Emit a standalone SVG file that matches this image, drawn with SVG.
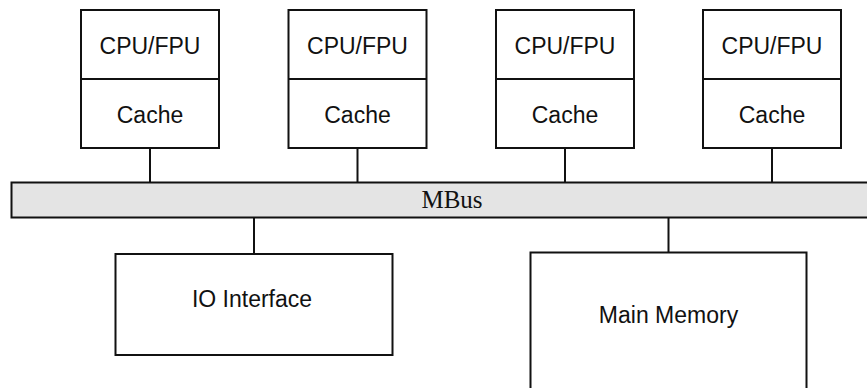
<svg xmlns="http://www.w3.org/2000/svg" width="867" height="388" viewBox="0 0 867 388">
<style>
.box{fill:#fff;stroke:#111;stroke-width:2}
.bus{fill:#e4e4e4;stroke:#111;stroke-width:2}
.ln{stroke:#111;stroke-width:2;fill:none}
.t{font-family:"Liberation Sans",Arial,sans-serif;font-size:23px;fill:#111;text-anchor:middle}
.s{font-family:"Liberation Serif","Times New Roman",serif;font-size:25px;fill:#111;text-anchor:middle}
</style>
<rect width="867" height="388" fill="#fff"/>
<g id="connectors">
<line class="ln" x1="150" y1="148" x2="150" y2="183"/>
<line class="ln" x1="357.5" y1="148" x2="357.5" y2="183"/>
<line class="ln" x1="565" y1="148" x2="565" y2="183"/>
<line class="ln" x1="772" y1="148" x2="772" y2="183"/>
<line class="ln" x1="254" y1="217" x2="254" y2="254"/>
<line class="ln" x1="668.5" y1="217" x2="668.5" y2="252.5"/>
</g>
<g id="cpu1">
<rect class="box" x="81" y="10" width="138" height="138"/>
<line class="ln" x1="81" y1="79" x2="219" y2="79"/>
<text class="t" x="150" y="54">CPU/FPU</text>
<text class="t" x="150" y="123">Cache</text>
</g>
<g id="cpu2">
<rect class="box" x="288.5" y="10" width="138" height="138"/>
<line class="ln" x1="288.5" y1="79" x2="426.5" y2="79"/>
<text class="t" x="357.5" y="54">CPU/FPU</text>
<text class="t" x="357.5" y="123">Cache</text>
</g>
<g id="cpu3">
<rect class="box" x="496" y="10" width="138" height="138"/>
<line class="ln" x1="496" y1="79" x2="634" y2="79"/>
<text class="t" x="565" y="54">CPU/FPU</text>
<text class="t" x="565" y="123">Cache</text>
</g>
<g id="cpu4">
<rect class="box" x="703" y="10" width="138" height="138"/>
<line class="ln" x1="703" y1="79" x2="841" y2="79"/>
<text class="t" x="772" y="54">CPU/FPU</text>
<text class="t" x="772" y="123">Cache</text>
</g>
<g id="mbus">
<rect class="bus" x="11.5" y="182.5" width="870" height="35"/>
<text class="s" x="452" y="207.5">MBus</text>
</g>
<g id="io">
<rect class="box" x="115.5" y="254" width="277" height="101"/>
<text class="t" x="252" y="307">IO Interface</text>
</g>
<g id="memory">
<rect class="box" x="530.5" y="252.5" width="276" height="150"/>
<text class="t" x="668.5" y="323">Main Memory</text>
</g>
</svg>
